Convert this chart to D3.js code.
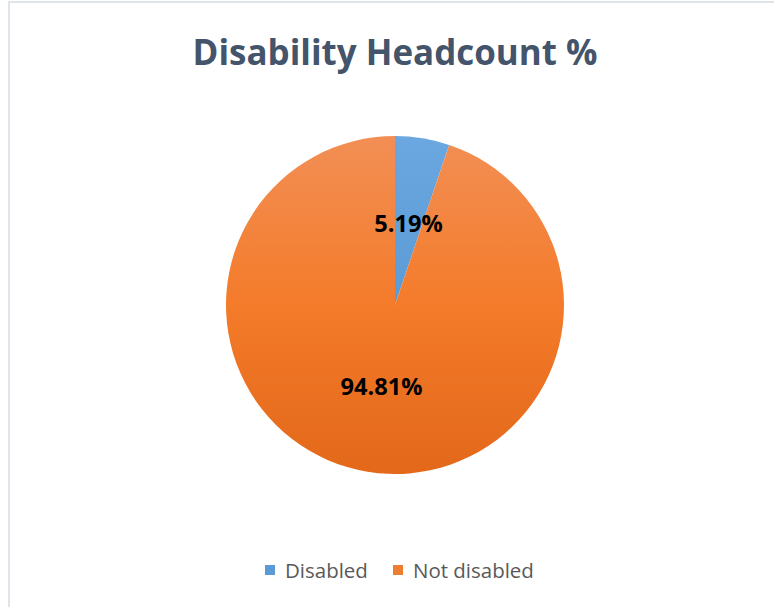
<!DOCTYPE html>
<html>
<head>
<meta charset="utf-8">
<script src="https://cdn.jsdelivr.net/npm/d3@7"></script>
<style>
  html, body { margin: 0; padding: 0; background: #ffffff; }
  svg { display: block; }
</style>
</head>
<body>
<div id="chart"></div>
<script>
// Headcount split by disability status
const categories = ["Disabled", "Not disabled"];
const values = [5.19, 94.81];
const valueLabels = ["5.19%", "94.81%"];
const chartTitle = "Disability Headcount %";

const W = 774, H = 607;
const cx = 395, cy = 305, R = 169;

const svg = d3.select("#chart").append("svg")
  .attr("width", W).attr("height", H);

// Fill gradients (in the pie group's coordinates), lighter at the top
const defs = svg.append("defs");
const gradients = [
  { id: "gBlue", stops: ["#6ba7e0", "#5b9bd5", "#4f8fcb"] },
  { id: "gOrange", stops: ["#f28f55", "#f47b2a", "#e3681a"] }
];
gradients.forEach(g => {
  const lg = defs.append("linearGradient")
    .attr("id", g.id)
    .attr("gradientUnits", "userSpaceOnUse")
    .attr("x1", 0).attr("y1", -R).attr("x2", 0).attr("y2", R);
  lg.selectAll("stop").data(g.stops).join("stop")
    .attr("offset", (d, i) => i / (g.stops.length - 1))
    .attr("stop-color", d => d);
});
const color = d3.scaleOrdinal().domain(categories).range(["url(#gBlue)", "url(#gOrange)"]);
const swatch = d3.scaleOrdinal().domain(categories).range(["#5b9bd5", "#ed7d31"]);

// Chart frame
svg.append("rect")
  .attr("x", 9).attr("y", 2)
  .attr("width", W + 20).attr("height", H + 20)
  .attr("fill", "none").attr("stroke", "#dfe3ea").attr("stroke-width", 2);

// Title, sized to a fixed width
const title = svg.append("text")
  .attr("x", cx).attr("y", 65)
  .attr("text-anchor", "middle")
  .attr("font-family", "'Open Sans', 'Noto Sans', sans-serif")
  .attr("font-weight", 700)
  .attr("font-size", 36)
  .attr("fill", "#44546a")
  .text(chartTitle);
{
  const w = title.node().getComputedTextLength();
  title.attr("font-size", 36 * 405 / w);
}

// Pie
const data = categories.map((c, i) => ({ name: c, value: values[i], label: valueLabels[i] }));
const pie = d3.pie().value(d => d.value).sort(null);
const arcs = pie(data);
const arc = d3.arc().innerRadius(0).outerRadius(R);
const labelArc = d3.arc().innerRadius(R * 0.49).outerRadius(R * 0.49);

const g = svg.append("g").attr("transform", `translate(${cx},${cy})`);
g.selectAll("path.slice").data(arcs).join("path")
  .attr("class", "slice")
  .attr("d", arc)
  .attr("fill", d => color(d.data.name));

const labels = g.selectAll("text.val").data(arcs).join("text")
  .attr("class", "val")
  .attr("transform", d => `translate(${labelArc.centroid(d)})`)
  .attr("text-anchor", "middle")
  .attr("dy", "0.36em")
  .attr("font-family", "'Open Sans', 'Noto Sans', sans-serif")
  .attr("font-weight", 700)
  .attr("font-size", 22)
  .attr("fill", "#000000")
  .text(d => d.data.label);
{
  const w = labels.nodes()[1].getComputedTextLength();
  labels.attr("font-size", 22 * 82 / w);
}

// Legend
const legendX = [265, 393];
const leg = svg.append("g");
const items = leg.selectAll("g").data(categories).join("g")
  .attr("transform", (d, i) => `translate(${legendX[i]},565)`);
items.append("rect")
  .attr("width", 10).attr("height", 10)
  .attr("fill", d => swatch(d));
const legText = items.append("text")
  .attr("x", 20).attr("y", 13)
  .attr("font-family", "'Open Sans', 'Noto Sans', sans-serif")
  .attr("font-size", 18)
  .attr("fill", "#595959")
  .text(d => d);
{
  const w = legText.nodes()[1].getComputedTextLength();
  legText.attr("font-size", 18 * 121 / w);
}
</script>
</body>
</html>
